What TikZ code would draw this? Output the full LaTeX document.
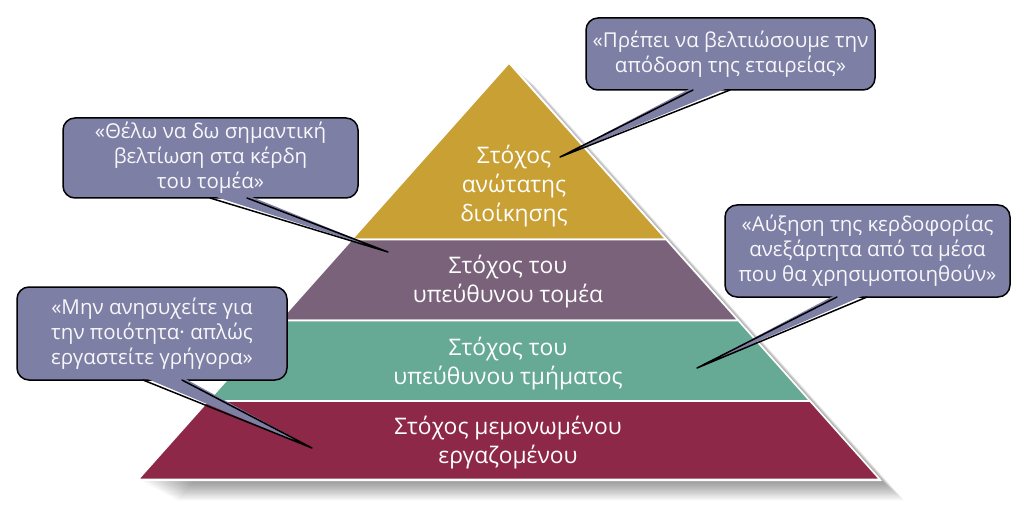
\documentclass[tikz,border=0pt]{standalone}
\usepackage{fontspec}
\setmainfont{Open Sans}
\usetikzlibrary{calc}
\definecolor{gold}{RGB}{201,160,52}
\definecolor{mauve}{RGB}{122,99,122}
\definecolor{teal2}{RGB}{102,170,150}
\definecolor{wine}{RGB}{142,40,72}
\definecolor{callfill}{RGB}{126,127,165}
\begin{document}
\begin{tikzpicture}[x=1pt,y=-1pt,
  band/.style={draw=white,line width=1.6pt,line join=round},
  lvl/.style={text=white,align=center,inner sep=0pt,font=\fontsize{22.8}{29}\selectfont},
  callout/.style={draw=black,line width=1.5pt,fill=callfill,rounded corners=12pt,
     inner sep=0pt,text=white!94!callfill,align=center,font=\fontsize{20.5}{25}\selectfont},
  tailfill/.style={fill=callfill},
  tailline/.style={draw=black,line width=1.5pt,line join=round,line cap=round}]
\useasboundingbox (0,0) rectangle (1024,529);
% shadow
\foreach \i in {1,...,16}{
  \fill[black,opacity=0.03] ($(509,63)+(\i*1.5,\i*1.3)$) -- ($(880,479.5)+(\i*1.5,\i*1.3)$) -- ($(138,479.5)+(\i*2.4,\i*1.3)$) -- cycle;
}
% bands
\fill[white] (509,61) -- (882,481) -- (136,481) -- cycle;
\path[band,fill=gold] (509,63) -- (666.2,239.5) -- (351.8,239.5) -- cycle;
\path[band,fill=mauve] (351.8,239.5) -- (666.2,239.5) -- (738.3,320.5) -- (279.7,320.5) -- cycle;
\path[band,fill=teal2] (279.7,320.5) -- (738.3,320.5) -- (810.0,401) -- (208.0,401) -- cycle;
\path[band,fill=wine] (208.0,401) -- (810.0,401) -- (879.9,479.5) -- (138.1,479.5) -- cycle;
% level labels
\node[lvl] (l1) at (514,186) {Στόχος\\ανώτατης\\διοίκησης};
\node[lvl] (l2) at (508,282) {Στόχος του\\υπεύθυνου τομέα};
\node[lvl] (l3) at (508,364) {Στόχος του\\υπεύθυνου τμήματος};
\node[lvl] (l4) at (508,443) {Στόχος μεμονωμένου\\εργαζομένου};
% tips
\coordinate (p1) at (560,157);
\coordinate (p2) at (388,252);
\coordinate (p3) at (697,368);
\coordinate (p4) at (312,448);
% callouts
\node[callout,minimum width=289pt,minimum height=72pt] (c1) at (730.5,54)
  {«Πρέπει να βελτιώσουμε την\\απόδοση της εταιρείας»};
\node[callout,minimum width=295pt,minimum height=80pt] (c2) at (210.5,158)
  {«Θέλω να δω σημαντική\\βελτίωση στα κέρδη\\του τομέα»};
\node[callout,minimum width=285pt,minimum height=92pt] (c3) at (867.5,251)
  {«Αύξηση της κερδοφορίας\\ανεξάρτητα από τα μέσα\\που θα χρησιμοποιηθούν»};
\node[callout,minimum width=270pt,minimum height=93pt] (c4) at (152,333.5)
  {«Μην ανησυχείτε για\\την ποιότητα· απλώς\\εργαστείτε γρήγορα»};
% tails
\fill[tailfill] (693,87) -- (p1) -- (730,87) -- cycle;
\draw[tailline] (693,90) -- (p1) -- (730,90);
\fill[tailfill] (210,195) -- (p2) -- (247,195) -- cycle;
\draw[tailline] (210,198) -- (p2) -- (247,198);
\fill[tailfill] (837,294) -- (p3) -- (867,294) -- cycle;
\draw[tailline] (837,297) -- (p3) -- (867,297);
\fill[tailfill] (143,377) -- (p4) -- (182,377) -- cycle;
\draw[tailline] (143,380) -- (p4) -- (182,380);
\end{tikzpicture}
\end{document}
